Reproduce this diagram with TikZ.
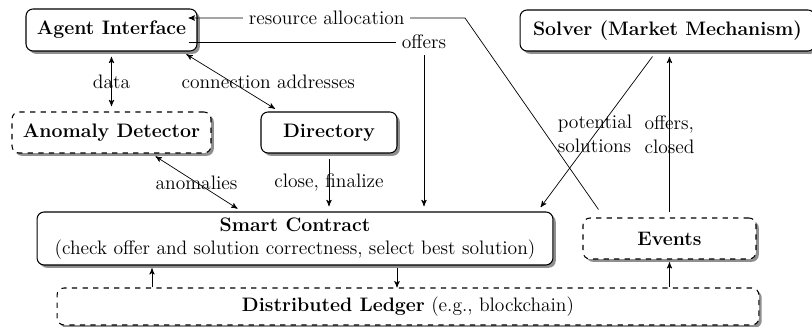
\documentclass[tikz,border=0pt]{standalone}
\usetikzlibrary{shadows, arrows, shapes, positioning, calc}

\tikzset{
  component/.style={draw, semithick, rounded corners=4pt, fill=white, align=center,
    drop shadow={shadow xshift=1.6pt, shadow yshift=-1.6pt, fill=black!55, opacity=.8}},
  extcomponent/.style={component, dashed},
  link/.style={shorten >=3pt, shorten <=3pt}
}

\begin{document}
\begin{tikzpicture}[x=0.02cm, y=-0.02cm, font=\fontsize{11.1}{13.4}\selectfont, >=stealth']
\useasboundingbox (0,0) rectangle (812,327);

\path (111.5,30) node[component, minimum width=3.42cm, minimum height=0.84cm] (agent) {\textbf{Agent Interface}};
\path (667.5,30.5) node[component, minimum width=5.9cm, minimum height=0.82cm] (solver) {\textbf{Solver (Market Mechanism)}};
\path (111.5,132.5) node[extcomponent, minimum width=3.98cm, minimum height=0.82cm] (anomaly) {\textbf{Anomaly Detector}};
\path (329,132.5) node[component, minimum width=2.72cm, minimum height=0.82cm] (directory) {\textbf{Directory}};
\path (295,238.5) node[component, minimum width=10.32cm, minimum height=1.06cm, inner sep=1pt] (smart) {\textbf{Smart Contract}\\(check offer and solution correctness, select best solution)};
\path (669.5,238.5) node[extcomponent, minimum width=3.46cm, minimum height=0.82cm] (events) {\textbf{Events}};
\path (408,306.5) node[extcomponent, minimum width=14.04cm, minimum height=0.74cm] (ledger) {\textbf{Distributed Ledger} (e.g., blockchain)};

\coordinate (alloc-bend) at (465,18);

\draw[<->, link] (agent.south) -- node {data} (anomaly.north);
\draw[<->, link] (agent.-17) -- node[xshift=0.75cm] {connection addresses} (directory.157);
\draw[<->, link] (anomaly.-28) -- node {anomalies} (smart.153);
\draw[->, link] (directory.south) -- node {close, finalize} (directory.south |- smart.north);

\draw[->, shorten >=3pt] ($(agent.east)+(-9,12)$) -| node[fill=white] {offers} ($(smart.north)+(129,0)$);
\draw[->] ($(events.north west)+(16,-8)$) -- (alloc-bend) --
	node[fill=white] {resource allocation} ($(agent.east)+(-9,-12)$);

\draw[->, shorten >=3pt] ($(solver.south)+(-15,5)$) --
	node[align=left] {potential\\solutions} ($(smart.north east)+(-16,0)$);
\draw[->, link] (events.north) -- node[align=left] {offers,\\closed} (events.north |- solver.south);

\draw[->, shorten >=1.5pt] ($(ledger.north)+(-256,0)$) -- ($(smart.south)+(-143,0)$);
\draw[->, shorten <=1.5pt] ($(smart.south)+(102,0)$) -- ($(ledger.north)+(-11,0)$);
\draw[->, shorten >=1.5pt] (events.south |- ledger.north) -- (events.south);
\end{tikzpicture}
\end{document}
